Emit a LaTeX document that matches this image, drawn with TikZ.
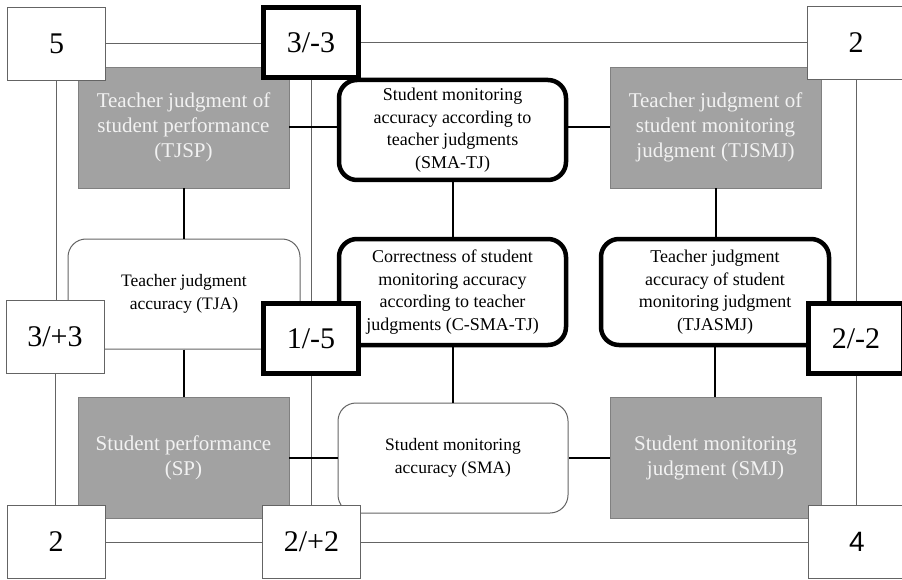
\documentclass[tikz,border=0pt]{standalone}
\usepackage{fontspec}
\setmainfont{Liberation Serif}
\newfontfamily\numsans{Liberation Sans}
\definecolor{boxgray}{RGB}{162,162,162}
\definecolor{gridgray}{RGB}{100,100,100}
\definecolor{softwhite}{RGB}{242,242,242}
\begin{document}
\begin{tikzpicture}[x=1pt,y=-1pt,
		numbox/.style={draw=gridgray,line width=1pt,fill=white,minimum width=98pt,minimum height=73pt,inner sep=0pt,font=\fontsize{30}{34}\selectfont},
		numthick/.style={numbox,draw=black,line width=5pt,minimum width=95pt,minimum height=70pt},
		graybox/.style={draw=gray,line width=0.8pt,fill=boxgray,text=softwhite,align=center,minimum width=211pt,minimum height=121pt,inner sep=0pt,font=\fontsize{21}{25}\selectfont},
		thinbox/.style={draw=gridgray,line width=1pt,fill=white,rounded corners=18pt,align=center,inner sep=0pt,font=\fontsize{17.5}{23}\selectfont},
		thickbox/.style={draw=black,line width=4.5pt,fill=white,rounded corners=18pt,align=center,inner sep=0pt,font=\fontsize{18}{22.5}\selectfont},
		link/.style={line width=2pt,black},
		gridline/.style={line width=1pt,gridgray}]
	\useasboundingbox (0,0) rectangle (902,580);
	% construct boxes
	\node[graybox] (tjsp) at (183.5,127.5) {Teacher judgment of\\student performance\\(TJSP)};
	\node[graybox] (tjsmj) at (715.5,127.5) {Teacher judgment of\\student monitoring\\judgment (TJSMJ)};
	\node[graybox] (sp) at (183.5,457.5) {Student performance\\(SP)};
	\node[graybox] (smj) at (715.5,457.5) {Student monitoring\\judgment (SMJ)};
	\node[thickbox,minimum width=227pt,minimum height=100pt] (smatj) at (452.5,130) {Student monitoring\\accuracy according to\\teacher judgments\\(SMA-TJ)};
	\node[thickbox,minimum width=227pt,minimum height=106pt] (csmatj) at (452.5,292) {Correctness of student\\monitoring accuracy\\according to teacher\\judgments (C-SMA-TJ)};
	\node[thickbox,minimum width=228pt,minimum height=106pt] (tjasmj) at (715,292) {Teacher judgment\\accuracy of student\\monitoring judgment\\(TJASMJ)};
	\node[thinbox,minimum width=232pt,minimum height=110pt] (tja) at (184,294) {Teacher judgment\\accuracy (TJA)};
	\node[thinbox,minimum width=230pt,minimum height=110pt] (sma) at (453,458) {Student monitoring\\accuracy (SMA)};
	% number boxes
	\node[numbox] (tl) at (56.5,44) {5};
	\node[numthick] (tm) at (311,43) {3/-3};
	\node[numbox] (tr) at (856,43) {2};
	\node[numbox] (ml) at (55,337) {3/+3};
	\node[numthick] (mm) at (311,338.5) {1/-5};
	\node[numthick] (mr) at (856,338.5) {2/-2};
	\node[numbox] (bl) at (56,542) {2};
	\node[numbox] (bm) at (311.5,542) {2/+2};
	\node[numbox,font=\numsans\fontsize{28}{32}\selectfont] (br) at (857,542) {4};
	% outer grid
	\draw[gridline] (tl.east) -- (tl.east -| tm.west);
	\draw[gridline] (tm.east) -- (tm.east -| tr.west);
	\draw[gridline] (bl.east) -- (bl.east -| bm.west);
	\draw[gridline] (bm.east) -- (bm.east -| br.west);
	\draw[gridline] (tl.south) -- (tl.south |- ml.north);
	\draw[gridline] (ml.south) -- (ml.south |- bl.north);
	\draw[gridline] (tm.south) -- (tm.south |- mm.north);
	\draw[gridline] (mm.south) -- (mm.south |- bm.north);
	\draw[gridline] (tr.south) -- (tr.south |- mr.north);
	\draw[gridline] (mr.south) -- (mr.south |- br.north);
	% links
	\draw[link] (tjsp.east) -- (tjsp.east -| smatj.west);
	\draw[link] (tjsmj.west) -- (tjsmj.west -| smatj.east);
	\draw[link] (sp.east) -- (sp.east -| sma.west);
	\draw[link] (smj.west) -- (smj.west -| sma.east);
	\draw[link] (tjsp.south) -- (tjsp.south |- tja.north);
	\draw[link] (tja.south) -- (tja.south |- sp.north);
	\draw[link] (smatj.south) -- (smatj.south |- csmatj.north);
	\draw[link] (csmatj.south) -- (csmatj.south |- sma.north);
	\draw[link] (tjsmj.south) -- (tjsmj.south |- tjasmj.north);
	\draw[link] (tjasmj.south) -- (tjasmj.south |- smj.north);
\end{tikzpicture}
\end{document}
